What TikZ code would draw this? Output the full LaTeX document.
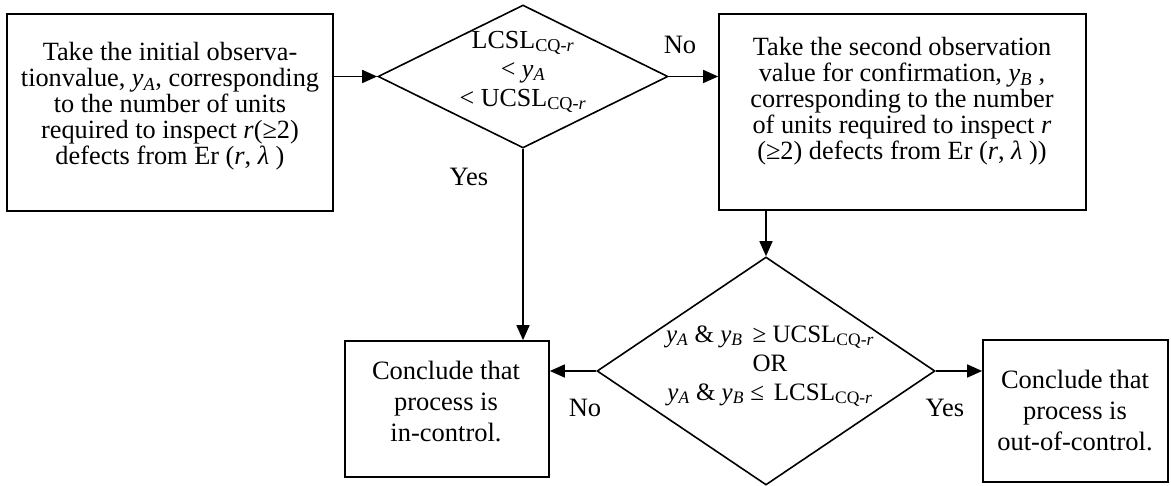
\documentclass[tikz,border=0pt]{standalone}
\usepackage{fontspec}
\setmainfont{Liberation Serif}
\usetikzlibrary{shapes.geometric,arrows.meta}
\begin{document}
\begin{tikzpicture}[x=1pt,y=-1pt,
 box/.style={draw,line width=1.7pt,rectangle,inner sep=0pt},
 dia/.style={draw,line width=1.6pt,diamond,inner sep=0pt},
 txt/.style={align=center,inner sep=0pt,font=\fontsize{26.3}{26}\selectfont},
 txtb/.style={align=center,inner sep=0pt,font=\fontsize{26.5}{31}\selectfont},
 txtd/.style={align=center,inner sep=0pt,font=\fontsize{26}{29}\selectfont},
 lbl/.style={inner sep=0pt,font=\fontsize{26.5}{27}\selectfont},
 arr/.style={line width=1.6pt,-{Triangle[length=15pt,width=13pt]}}]
\useasboundingbox (0,0) rectangle (1171,486);

% boxes
\node[box,minimum width=326pt,minimum height=197pt] (b1) at (170,112.5) {};
\node[txt] (t1) at (170,106) {Take the initial observa-\\tionvalue, \textit{y}\textsubscript{\textit{A}}, corresponding\\to the number of units\\required to inspect \textit{r}(≥2)\\defects from Er (\textit{r}, \textit{λ} )};

\node[box,minimum width=367pt,minimum height=196pt] (b2) at (902.5,112) {};
\node[txt] (t2) at (902,101) {Take the second observation\\value for confirmation, \textit{y}\textsubscript{\textit{B}} ,\\corresponding to the number\\of units required to inspect \textit{r}\\(≥2) defects from Er (\textit{r}, \textit{λ} ))};

\node[box,minimum width=204pt,minimum height=136pt] (b3) at (447,409) {};
\node[txtb] (t3) at (446,401) {Conclude that\\process is\\in-control.};

\node[box,minimum width=185pt,minimum height=142pt] (b4) at (1075.5,411) {};
\node[txtb] (t4) at (1075,410) {Conclude that\\process is\\out-of-control.};

% diamonds
\node[dia,minimum width=290pt,minimum height=143pt] (d1) at (523,76.5) {};
\node[txtd] (td1) at (523,72) {LCSL\textsubscript{CQ-\textit{r}}\\< \textit{y}\textsubscript{\textit{A}}\\< UCSL\textsubscript{CQ-\textit{r}}};

\node[dia,minimum width=338pt,minimum height=228pt] (d2) at (766,371) {};
\node[txtd,font=\fontsize{25}{29}\selectfont] (td2) at (770,366) {\textit{y}\textsubscript{\textit{A}} \& \textit{y}\textsubscript{\textit{B}}\hspace{0.4em}≥ UCSL\textsubscript{CQ-\textit{r}}\\OR\\\textit{y}\textsubscript{\textit{A}} \& \textit{y}\textsubscript{\textit{B}} ≤\hspace{0.4em}LCSL\textsubscript{CQ-\textit{r}}};

% labels
\node[lbl] (no1) at (680,45) {No};
\node[lbl] (yes1) at (469,177) {Yes};
\node[lbl] (no2) at (585,408) {No};
\node[lbl] (yes2) at (945,408) {Yes};

% connectors
\draw[arr] (b1.east |- d1.west) -- (d1.west);
\draw[arr] (d1.east) -- (d1.east -| b2.west);
\draw[arr] (d1.south) -- (d1.south |- b3.north);
\draw[arr] (b2.south -| d2.north) -- (d2.north);
\draw[arr] (d2.west) -- (d2.west -| b3.east);
\draw[arr] (d2.east) -- (d2.east -| b4.west);
\end{tikzpicture}
\end{document}
